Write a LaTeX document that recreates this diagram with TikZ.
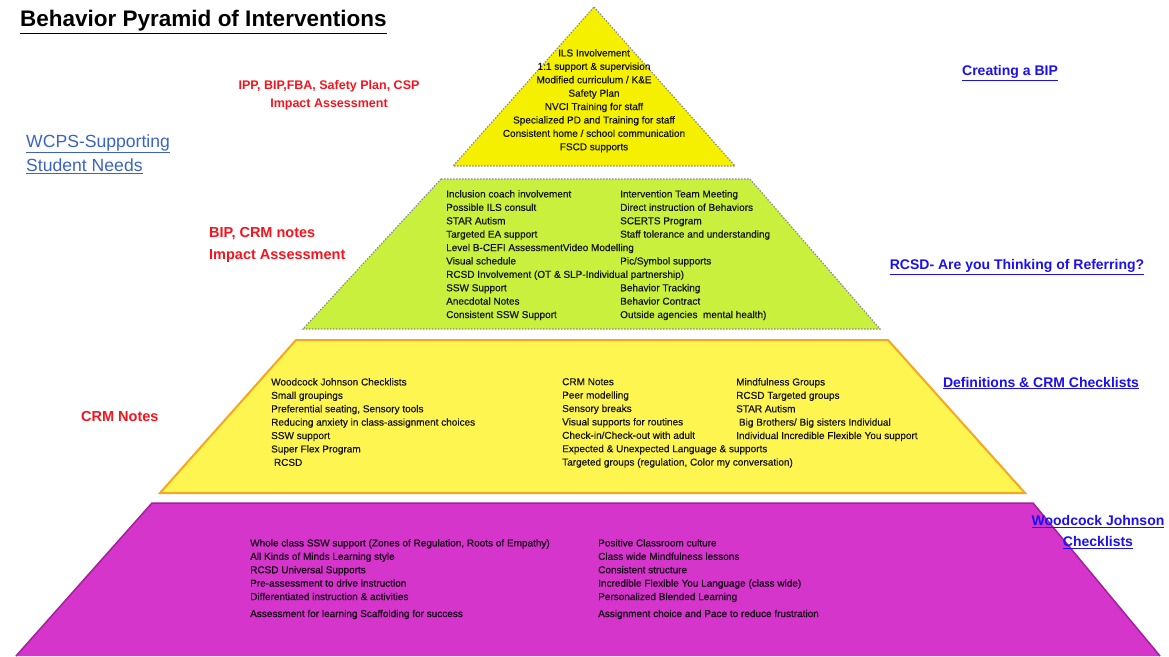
\documentclass[tikz,border=0pt]{standalone}
\usepackage{fontspec}
\setmainfont{Liberation Sans}
\newfontfamily\itemfont[FakeBold=0.4]{Liberation Sans}
\usepackage{tikz}

\definecolor{topyellow}{HTML}{F5F000}
\definecolor{midgreen}{HTML}{C8F03C}
\definecolor{lowyellow}{HTML}{FFF550}
\definecolor{loworange}{HTML}{F5A623}
\definecolor{basemagenta}{HTML}{D535CB}
\definecolor{baseedge}{HTML}{A3209A}
\definecolor{notered}{HTML}{F5141E}
\definecolor{linkblue}{HTML}{1A10F0}
\definecolor{wcpsblue}{HTML}{3B63C6}

\begin{document}
\begin{tikzpicture}[x=1pt,y=-1pt,
	tiertext/.style={anchor=north west,inner sep=0pt,align=left,text=black!92,
		font=\itemfont\fontsize{10}{13.4}\selectfont},
	rednote/.style={inner sep=0pt,text=notered,font=\bfseries\fontsize{14.5}{22}\selectfont},
	weblink/.style={inner sep=0pt,text=linkblue,font=\bfseries\fontsize{14}{21}\selectfont}]
		\useasboundingbox (0,0) rectangle (1169,656);

		% the four tiers
		\draw[fill=basemagenta,draw=none] (16,656)--(152,503)--(1033,503)--(1160,656)--cycle;
		\draw[baseedge,line width=1.5pt] (16,656)--(152,503)--(1033,503)--(1160,656);
		\draw[fill=lowyellow,draw=loworange,line width=2pt] (296,340)--(888,340)--(1025,493)--(160,493)--cycle;
		\draw[fill=midgreen,draw=black!45,line width=1.2pt,dash pattern=on 1.5pt off 1.5pt] (441,179)--(750,179)--(880,329)--(303,329)--cycle;
		\draw[fill=topyellow,draw=black!45,line width=1.2pt,dash pattern=on 1.5pt off 1.5pt] (594,7)--(735,166)--(453,166)--cycle;

		% title
		\node[anchor=west,inner sep=0pt,font=\bfseries\fontsize{22.5}{26}\selectfont] (title) at (20,22) {\underline{Behavior Pyramid of Interventions}};

		% top tier
		\node[tiertext,anchor=north,align=center] (toplist) at (594,49) {ILS Involvement\\
			1:1 support \& supervision\\
			Modified curriculum / K\&E\\
			Safety Plan\\
			NVCI Training for staff\\
			Specialized PD and Training for staff\\
			Consistent home / school communication\\
			FSCD supports};

		% second tier
		\node[tiertext] (midleft) at (446,190) {Inclusion coach involvement\\
			Possible ILS consult\\
			STAR Autism\\
			Targeted EA support\\
			Level B-CEFI AssessmentVideo Modelling\\
			Visual schedule\\
			RCSD Involvement (OT \& SLP-Individual partnership)\\
			SSW Support\\
			Anecdotal Notes\\
			Consistent SSW Support};
		\node[tiertext] (midright) at (620,190) {Intervention Team Meeting\\
			Direct instruction of Behaviors\\
			SCERTS Program\\
			Staff tolerance and understanding\\[13.4pt]
			Pic/Symbol supports\\[13.4pt]
			Behavior Tracking\\
			Behavior Contract\\
			Outside agencies\ \ mental health)};

		% third tier
		\node[tiertext] (lowleft) at (271,378) {Woodcock Johnson Checklists\\
			Small groupings\\
			Preferential seating, Sensory tools\\
			Reducing anxiety in class-assignment choices\\
			SSW support\\
			Super Flex Program\\
			\ RCSD};
		\node[tiertext] (lowmid) at (562,378) {CRM Notes\\
			Peer modelling\\
			Sensory breaks\\
			Visual supports for routines\\
			Check-in/Check-out with adult\\
			Expected \& Unexpected Language \& supports\\
			Targeted groups (regulation, Color my conversation)};
		\node[tiertext] (lowright) at (736,378) {Mindfulness Groups\\
			RCSD Targeted groups\\
			STAR Autism\\
			\ Big Brothers/ Big sisters Individual\\
			Individual Incredible Flexible You support};

		% base tier
		\node[tiertext,text=black!85!violet] (baseleft) at (250,539) {Whole class SSW support (Zones of Regulation, Roots of Empathy)\\
			All Kinds of Minds Learning style\\
			RCSD Universal Supports\\
			Pre-assessment to drive instruction\\
			Differentiated instruction \& activities\\[3.6pt]
			Assessment for learning Scaffolding for success};
		\node[tiertext,text=black!85!violet] (baseright) at (598,539) {Positive Classroom culture\\
			Class wide Mindfulness lessons\\
			Consistent structure\\
			Incredible Flexible You Language (class wide)\\
			Personalized Blended Learning\\[3.6pt]
			Assignment choice and Pace to reduce frustration};

		% red notes on the left
		\node[rednote,align=center,font=\bfseries\fontsize{12.5}{18}\selectfont] (topnote) at (329,95) {IPP, BIP,FBA, Safety Plan, CSP\\Impact Assessment};
		\node[rednote,anchor=west,align=left] (midnote) at (209,245) {BIP, CRM notes\\Impact Assessment};
		\node[rednote,anchor=west] (lownote) at (81,417) {CRM Notes};

		% links
		\node[anchor=west,inner sep=0pt,align=left,text=wcpsblue,font=\fontsize{17.6}{24}\selectfont] (wcps) at (26,154) {\underline{WCPS-Supporting}\\\underline{Student Needs}};
		\node[weblink] (biplink) at (1010,73) {\underline{Creating a BIP}};
		\node[weblink] (rcsdlink) at (1017,267) {\underline{RCSD- Are you Thinking of Referring?}};
		\node[weblink] (crmlink) at (1041,383) {\underline{Definitions \& CRM Checklists}};
		\node[weblink,align=center] (wjlink) at (1098,532) {\underline{Woodcock Johnson}\\\underline{Checklists}};
	\end{tikzpicture}
\end{document}
